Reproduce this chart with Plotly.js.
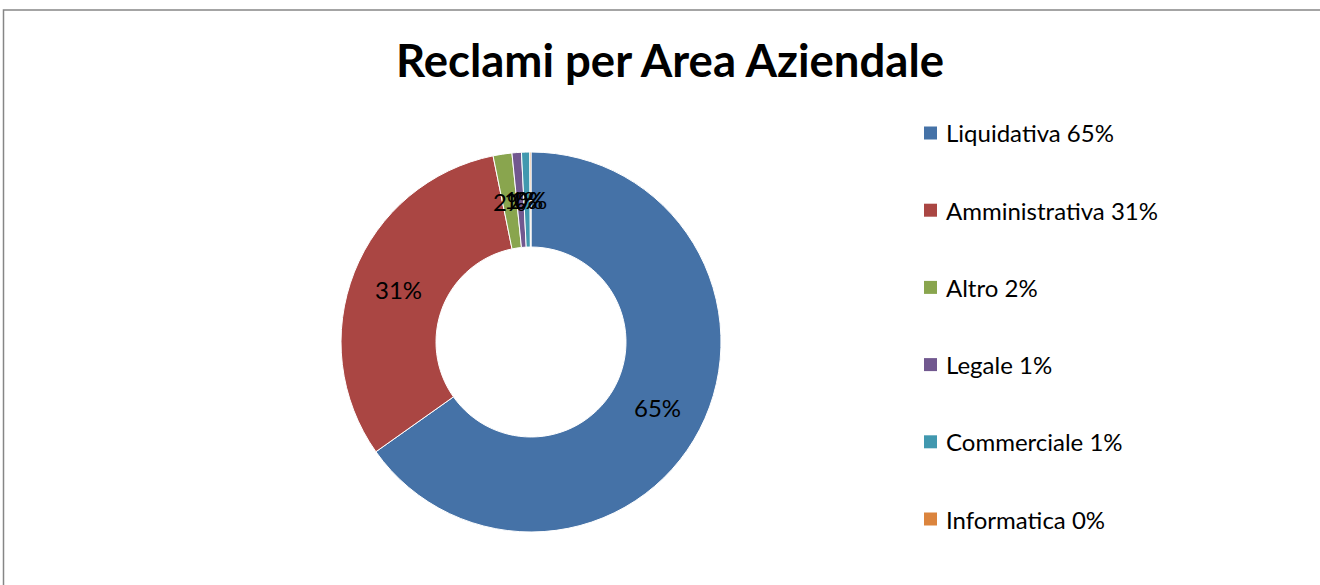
<!DOCTYPE html>
<html><head><meta charset="utf-8">
<script src="https://cdn.plot.ly/plotly-3.0.1.min.js"></script>
<style>html,body{margin:0;padding:0;overflow:hidden;background:#fff}#chart{width:1320px;height:585px}</style>
</head><body><div id="chart"></div>
<script>
const categories = ["Liquidativa", "Amministrativa", "Altro", "Legale", "Commerciale", "Informatica"];
const values = [65.2, 31.6, 1.6, 0.8, 0.7, 0.1];
const percentLabels = ["65%", "31%", "2%", "1%", "1%", "0%"];
const colors = ["#4572A7", "#AA4643", "#89A54E", "#71588F", "#4198AF", "#DB843D"];

const W = 1320, H = 585;
const cx = 531, cy = 342, R = 190, rText = 142.5;
const px = x => x / W, py = y => 1 - y / H;
const FONT = "Lato, 'Open Sans', sans-serif";

const annotations = [], shapes = [];
// outer chart border (cropped at right/bottom)
shapes.push({type: 'rect', xref: 'paper', yref: 'paper', x0: px(3.5), x1: px(1340), y0: py(10), y1: py(600),
  line: {color: '#868686', width: 1.5}, fillcolor: 'rgba(0,0,0,0)'});
// legend
categories.forEach((c, i) => {
  const yc = 133 + i * 77.2;
  shapes.push({type: 'rect', xref: 'paper', yref: 'paper', x0: px(924), x1: px(937), y0: py(yc - 6.5), y1: py(yc + 6.5),
    fillcolor: colors[i], line: {width: 0}});
  annotations.push({xref: 'paper', yref: 'paper', x: px(944), y: py(yc), xanchor: 'left', yanchor: 'middle',
    text: c + ' ' + percentLabels[i], showarrow: false, font: {family: FONT, size: 24, color: '#000'}});
});
// data labels at the middle of the ring, at each slice's mid angle (clockwise from 12 o'clock)
const total = values.reduce((a, b) => a + b, 0);
let cum = 0;
values.forEach((v, i) => {
  const mid = (cum + v / 2) / total * 2 * Math.PI;
  cum += v;
  annotations.push({xref: 'paper', yref: 'paper', x: px(cx + rText * Math.sin(mid)), y: py(cy - rText * Math.cos(mid)),
    xanchor: 'center', yanchor: 'middle', text: percentLabels[i], showarrow: false,
    font: {family: FONT, size: 24, color: '#000'}});
});

const data = [{
  type: 'pie', labels: categories, values: values,
  textinfo: 'none',
  sort: false, direction: 'clockwise', rotation: 0, hole: 0.5,
  marker: {colors: colors, line: {color: '#ffffff', width: 1}},
  domain: {x: [px(cx - R), px(cx + R)], y: [py(cy + R), py(cy - R)]},
  showlegend: false, hoverinfo: 'label+percent'
}];

const layout = {
  width: W, height: H, margin: {l: 0, r: 0, t: 0, b: 0},
  paper_bgcolor: '#fff', plot_bgcolor: '#fff', showlegend: false,
  title: {text: '<b>Reclami per Area Aziendale</b>', x: px(670), xanchor: 'center', y: py(61), yanchor: 'middle', yref: 'container',
    font: {family: FONT, size: 45.5, color: '#000'}},
  shapes: shapes, annotations: annotations
};
Plotly.newPlot('chart', data, layout, {displayModeBar: false, staticPlot: true});
</script></body></html>
